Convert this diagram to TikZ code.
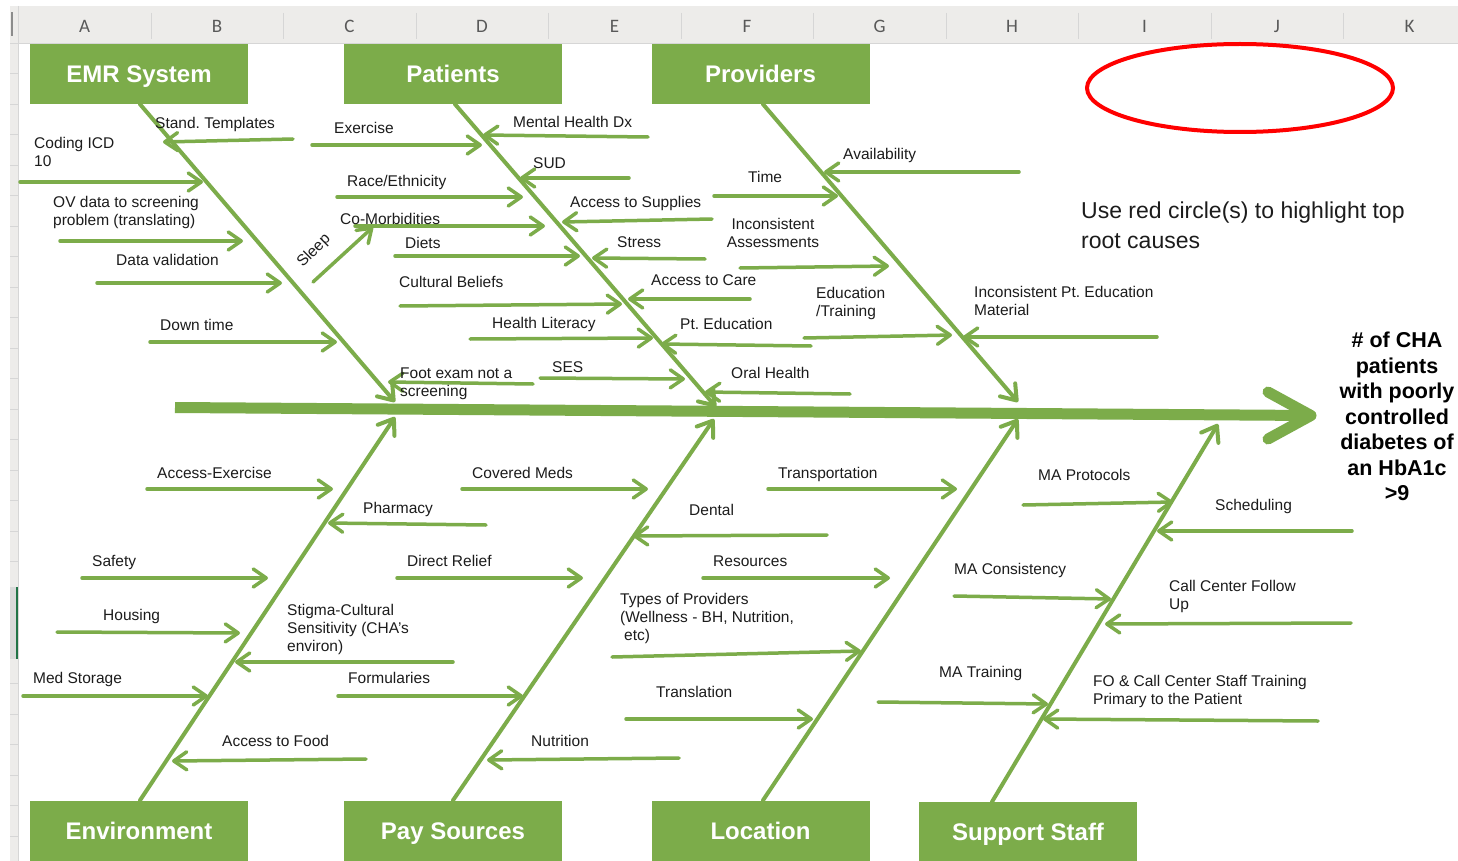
\documentclass[tikz,border=0pt]{standalone}
\usepackage{fontspec}
\setmainfont{Liberation Sans}
\newfontfamily\hdrfont{Carlito}
\usetikzlibrary{arrows.meta,shapes.geometric}

\definecolor{fishgreen}{RGB}{124,172,74}
\definecolor{hdrgray}{RGB}{237,236,234}
\definecolor{hdrline}{RGB}{214,214,214}
\definecolor{xlgreen}{RGB}{33,115,70}
\definecolor{labelink}{RGB}{28,28,28}

% one cause arrow: name, start point, end point
\newcommand{\fishcause}[3]{%
  \coordinate (#1-s) at (#2);
  \coordinate (#1-e) at (#3);
  \draw[cause] (#1-s) -- (#1-e);}

\begin{document}
\frenchspacing
\begin{tikzpicture}[x=1pt,y=-1pt,
  lbl/.style={anchor=base west, inner sep=0pt, text=labelink,
    font=\fontsize{15.5}{18}\selectfont},
  mlbl/.style={anchor=north west, inner sep=0pt, align=left, text=labelink,
    font=\fontsize{15.5}{18}\selectfont},
  catbox/.style={fill=fishgreen, text=white, inner sep=0pt,
    font=\bfseries\fontsize{24}{28}\selectfont,
    text height=17.3pt, text depth=0pt,
    minimum width=218pt, minimum height=60pt},
  colhdr/.style={inner sep=0pt, text=black!65, font=\hdrfont\fontsize{19}{20}\selectfont},
  bone/.style={draw=fishgreen, line width=4pt, line cap=round,
    -{Straight Barb[length=14pt,width=20pt,round]}},
  cause/.style={draw=fishgreen, line width=3.5pt, line cap=round,
    -{Straight Barb[length=13pt,width=18pt,round]}},
]
\useasboundingbox (0,0) rectangle (1458,861);
\fill[white] (0,0) rectangle (1458,861);

% ---------- spreadsheet frame: column header and row gutter ----------
\fill[hdrgray] (10,6) rectangle (1458,43);
\fill[hdrgray] (10,43) rectangle (18,861);
\draw[hdrline] (10,43) -- (1458,43);
\draw[hdrline] (18,6) -- (18,861);
\fill[black!45] (10.5,12) rectangle (13,36);
\foreach \k in {0,...,9}
  \draw[hdrline] ({151+132.5*\k},13) -- ({151+132.5*\k},39);
\foreach \c [count=\i] in {A,B,C,D,E,F,G,H,I,J,K}
  \node[colhdr] (col-\c) at ({84.5+132.5*(\i-1)},26) {\c};
\foreach \k in {1,...,27}
  \draw[hdrline] (10,{43+30.5*\k}) -- (18,{43+30.5*\k});
\fill[black!15] (10,587) rectangle (17,659);
\draw[xlgreen, line width=2pt] (17,587) -- (17,659);

% ---------- category boxes ----------
\node[catbox] (emr)  at (139,74)    {EMR System};
\node[catbox] (pat)  at (453,74)    {Patients};
\node[catbox] (prov) at (760.5,74)  {Providers};
\node[catbox] (env)  at (139,830.5) {Environment};
\node[catbox] (pay)  at (453,830.5) {Pay Sources};
\node[catbox] (loc)  at (760.5,830.5) {Location};
\node[catbox, minimum height=59pt] (sup) at (1028,831.5) {Support Staff};

% ---------- spine ----------
\coordinate (spine-tail) at (175,407.5);
\coordinate (spine-tip)  at (1311,415.5);
\coordinate (chev-a) at (1268,392);
\coordinate (chev-b) at (1268,439);
\draw[fishgreen, line width=11pt] (spine-tail) -- (spine-tip);
\draw[fishgreen, line width=11pt, line cap=round, line join=round]
  (chev-a) -- (spine-tip) -- (chev-b);

% ---------- main bones ----------
\coordinate (emr-head)  at (395,402);
\coordinate (pat-head)  at (716,407);
\coordinate (prov-head) at (1018,402);
\coordinate (env-head)  at (395,417);
\coordinate (pay-head)  at (714,419);
\coordinate (loc-head)  at (1018,419);
\coordinate (sup-head)  at (1218,424);
\draw[bone] ([xshift=1pt]emr.south) -- (emr-head);
\draw[bone] ([xshift=2pt]pat.south) -- (pat-head);
\draw[bone] ([xshift=2.5pt]prov.south) -- (prov-head);
\draw[bone] ([xshift=1pt]env.north) -- (env-head);
\draw[bone] (pay.north) -- (pay-head);
\draw[bone] ([xshift=2.5pt]loc.north) -- (loc-head);
\draw[bone] ([xshift=-36pt]sup.north) -- (sup-head);

% ---------- EMR System causes ----------
\fishcause{c-stand}{293,139}{163,142}
\fishcause{c-coding}{20,182}{203,182}
\fishcause{c-ov}{60,241}{243,241}
\fishcause{c-dataval}{97,283}{282,283}
\fishcause{c-down}{150,342}{337,342}
\fishcause{c-foot}{533,384}{388,382}
\node[lbl] (l-stand) at (155,128.5) {Stand. Templates};
\node[mlbl] (l-coding) at (34,137) {Coding ICD\\10};
\node[mlbl] (l-ov) at (53,196) {OV data to screening\\problem (translating)};
\node[lbl] (l-dataval) at (116,265.5) {Data validation};
\node[lbl] (l-down) at (160,330.5) {Down time};
\node[mlbl] (l-foot) at (400,368) {Foot exam not a\\screening};

% ---------- Patients causes ----------
\fishcause{c-exercise}{312,145}{482,145}
\fishcause{c-mental}{648,137}{483,135}
\fishcause{c-sud}{629,178}{520,178}
\fishcause{c-race}{337,197}{523,197}
\fishcause{c-supplies}{712,219}{562,222}
\fishcause{c-comorb}{355,226}{545,226}
\fishcause{c-diets}{395,256}{580,256}
\fishcause{c-stress}{705,259}{592,258}
\fishcause{c-cultural}{400,306}{622,304}
\fishcause{c-care}{750,299}{628,299}
\fishcause{c-literacy}{470,339}{653,338}
\fishcause{c-pted}{811,346}{661,344}
\fishcause{c-ses}{540,378}{685,379}
% sub-cause feeding into the Co-Morbidities arrow
\fishcause{c-sleep}{313,282}{373,227}
\node[inner sep=0pt, text=labelink, font=\fontsize{15.5}{18}\selectfont, rotate=45]
  (l-sleep) at (314,251) {Sleep};
\node[lbl] (l-exercise) at (334,133.5) {Exercise};
\node[lbl] (l-mental) at (513,127.5) {Mental Health Dx};
\node[lbl] (l-sud) at (533,168.5) {SUD};
\node[lbl] (l-race) at (347,186.5) {Race/Ethnicity};
\node[lbl] (l-supplies) at (570,207.5) {Access to Supplies};
\node[lbl] (l-comorb) at (340,224.5) {Co-Morbidities};
\node[lbl] (l-diets) at (405,248.5) {Diets};
\node[lbl] (l-stress) at (617,247.5) {Stress};
\node[lbl] (l-cultural) at (399,287.5) {Cultural Beliefs};
\node[lbl] (l-care) at (651,285.5) {Access to Care};
\node[lbl] (l-literacy) at (492,328.5) {Health Literacy};
\node[lbl] (l-pted) at (680,329.5) {Pt. Education};
\node[lbl] (l-ses) at (552,372.5) {SES};

% ---------- Providers causes ----------
\fishcause{c-time}{714,196}{838,196}
\fishcause{c-avail}{1019,172}{824,172}
\fishcause{c-incons}{740,268}{889,266}
\fishcause{c-edu}{804,338}{952,335}
\fishcause{c-material}{1157,337}{963,337}
\fishcause{c-oral}{850,394}{705,392}
\node[lbl] (l-time) at (748,182.5) {Time};
\node[lbl] (l-avail) at (843,159.5) {Availability};
\node[anchor=north, inner sep=0pt, align=center, text=labelink,
  font=\fontsize{15.5}{18}\selectfont] (l-incons) at (773,218) {Inconsistent\\Assessments};
\node[mlbl] (l-edu) at (816,287) {Education\\/Training};
\node[mlbl] (l-material) at (974,286) {Inconsistent Pt. Education\\Material};
\node[lbl] (l-oral) at (731,378.5) {Oral Health};

% ---------- Environment causes ----------
\fishcause{c-accex}{147,489}{333,489}
\fishcause{c-pharm}{486,525}{328,523}
\fishcause{c-safety}{82,578}{268,578}
\fishcause{c-housing}{57,632}{240,633}
\fishcause{c-stigma}{453,662}{235,662}
\fishcause{c-medst}{23,696}{208,696}
\fishcause{c-food}{366,759}{172,761}
\node[lbl] (l-accex) at (157,478.5) {Access-Exercise};
\node[lbl] (l-pharm) at (363,513.5) {Pharmacy};
\node[lbl] (l-safety) at (92,566.5) {Safety};
\node[lbl] (l-housing) at (103,620.5) {Housing};
\node[mlbl] (l-stigma) at (287,604) {Stigma-Cultural\\Sensitivity (CHA's\\environ)};
\node[lbl] (l-medst) at (33,683.5) {Med Storage};
\node[lbl] (l-food) at (222,746.5) {Access to Food};

% ---------- Pay Sources causes ----------
\fishcause{c-covered}{462,489}{648,489}
\fishcause{c-relief}{397,578}{583,578}
\fishcause{c-formul}{338,696}{523,696}
\fishcause{c-nutr}{679,758}{487,760}
\fishcause{c-dental}{827,535}{633,536}
\node[lbl] (l-covered) at (472,478.5) {Covered Meds};
\node[lbl] (l-relief) at (407,566.5) {Direct Relief};
\node[lbl] (l-formul) at (348,683.5) {Formularies};
\node[lbl] (l-nutr) at (531,746.5) {Nutrition};
\node[lbl] (l-dental) at (689,515.5) {Dental};

% ---------- Location causes ----------
\fishcause{c-transp}{768,489}{957,489}
\fishcause{c-resources}{703,578}{890,578}
\fishcause{c-types}{612,657}{861,651}
\fishcause{c-transl}{626,719}{813,719}
\node[lbl] (l-transp) at (778,478.5) {Transportation};
\node[lbl] (l-resources) at (713,566.5) {Resources};
\node[mlbl] (l-types) at (620,593) {Types of Providers\\(Wellness - BH, Nutrition,\\\hspace*{4pt}etc)};
\node[lbl] (l-transl) at (656,697.5) {Translation};

% ---------- Support Staff causes ----------
\fishcause{c-maprot}{1023,505}{1173,502}
\fishcause{c-sched}{1352,531}{1157,531}
\fishcause{c-macons}{954,596}{1111,599}
\fishcause{c-callc}{1351,623}{1105,624}
\fishcause{c-matrain}{878,702}{1048,704}
\fishcause{c-fo}{1318,721}{1043,719}
\node[lbl] (l-maprot) at (1038,480.5) {MA Protocols};
\node[lbl] (l-sched) at (1215,510.5) {Scheduling};
\node[lbl] (l-macons) at (954,574.5) {MA Consistency};
\node[mlbl] (l-callc) at (1169,580) {Call Center Follow\\Up};
\node[lbl] (l-matrain) at (939,677.5) {MA Training};
\node[mlbl] (l-fo) at (1093,675) {FO \& Call Center Staff Training\\Primary to the Patient};

% ---------- effect, note and highlight ring ----------
\node[anchor=north, inner sep=0pt, align=center, text=black,
  font=\bfseries\fontsize{21.5}{25.5}\selectfont] (effect) at (1397,332)
  {\# of CHA\\patients\\with poorly\\controlled\\diabetes of\\an HbA1c\\>9};
\node[anchor=north west, inner sep=0pt, align=left, text=labelink,
  font=\fontsize{23}{30}\selectfont] (note) at (1081,201.5)
  {Use red circle(s) to highlight top\\root causes};
\node[ellipse, draw=red, line width=4pt, minimum width=306pt, minimum height=88pt]
  (ring) at (1240,88) {};
\end{tikzpicture}
\end{document}
